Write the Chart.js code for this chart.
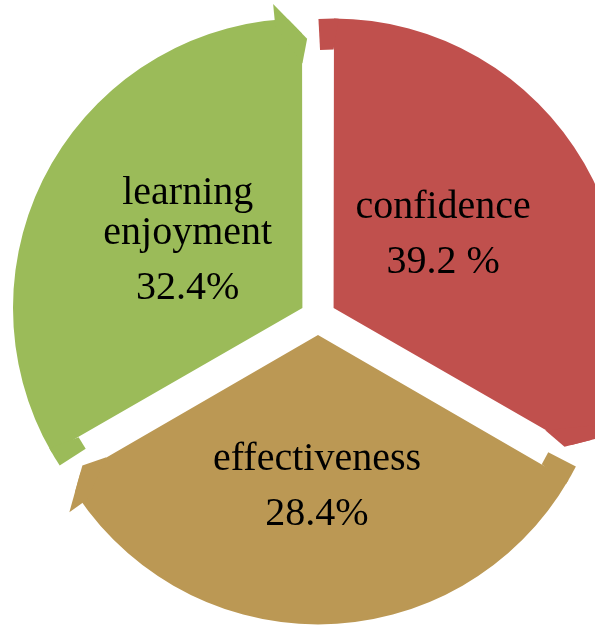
<!DOCTYPE html>
<html>
<head>
<meta charset="utf-8">
<script src="https://cdn.jsdelivr.net/npm/chart.js@4/dist/chart.umd.min.js"></script>
<style>
  html, body { margin: 0; padding: 0; background: #fff; overflow: hidden; }
  /* the circle runs past the right and bottom edges of the picture */
  #wrap { position: absolute; left: 0; top: 0; width: 636px; height: 634px; }
</style>
</head>
<body>
<div id="wrap"><canvas id="cycleChart"></canvas></div>
<script>
// Segments, clockwise from 12 o'clock
const categories = ['confidence', 'effectiveness', ['learning', 'enjoyment']];
// Shares printed on the segments
const shares = [39.2, 28.4, 32.4];
const shareText = ['39.2 %', '28.4%', '32.4%'];
// The diagram gives every segment the same sweep (degrees)
const sweep = [120, 120, 120];

const colors = ['#C0504D', '#BB9854', '#9BBB59'];
const DEG = Math.PI / 180;

function polar(cx, cy, a, r) {
    return [cx + Math.cos(a) * r, cy + Math.sin(a) * r];
}

// Centre / angles / radius of an arc as ArcElement.draw actually paints it
function arcFrame(arc) {
    const p = arc.getProps(['x', 'y', 'startAngle', 'endAngle', 'outerRadius', 'circumference'], true);
    const off = (arc.options.offset || 0) / 4;
    const mid = (p.startAngle + p.endAngle) / 2;
    const fix = 1 - Math.sin(Math.min(Math.PI, p.circumference));
    return {
        cx: p.x + Math.cos(mid) * off,
        cy: p.y + Math.sin(mid) * off,
        s: p.startAngle,
        e: p.endAngle,
        mid: mid,
        r: p.outerRadius + off * fix
    };
}

// Arrowhead at the clockwise end of each segment, notch at its start
const arrowPlugin = {
    id: 'cycleArrows',
    afterDatasetsDraw(chart, args, o) {
        const ctx = chart.ctx;
        const arcs = chart.getDatasetMeta(0).data;
        const frames = arcs.map(arcFrame);
        ctx.save();

        // cut the corner that sits outside the arrow's slanted side
        frames.forEach(f => {
            const b = polar(f.cx, f.cy, f.e - o.barbAngle * DEG, f.r + o.barbOut);
            const t = polar(f.cx, f.cy, f.e + o.tipAngle * DEG, f.r - o.tipIn);
            const to = polar(f.cx, f.cy, f.e + o.tipAngle * DEG, f.r + 45);
            const bo = polar(f.cx, f.cy, f.e - o.barbAngle * DEG, f.r + 45);
            ctx.fillStyle = '#ffffff';
            ctx.beginPath();
            ctx.moveTo(b[0], b[1]);
            ctx.lineTo(t[0], t[1]);
            ctx.lineTo(to[0], to[1]);
            ctx.lineTo(bo[0], bo[1]);
            ctx.closePath();
            ctx.fill();
        });

        frames.forEach((f, i) => {
            ctx.fillStyle = arcs[i].options.backgroundColor;

            // arrowhead
            const e0 = polar(f.cx, f.cy, f.e, f.r - 45);
            const a = polar(f.cx, f.cy, f.e - o.barbAngle * DEG, f.r - 6);
            const b = polar(f.cx, f.cy, f.e - o.barbAngle * DEG, f.r + o.barbOut);
            const t = polar(f.cx, f.cy, f.e + o.tipAngle * DEG, f.r - o.tipIn);
            ctx.beginPath();
            ctx.moveTo(e0[0], e0[1]);
            ctx.lineTo(a[0], a[1]);
            ctx.lineTo(b[0], b[1]);
            ctx.lineTo(t[0], t[1]);
            ctx.closePath();
            ctx.fill();

            // tail notch
            const s0 = polar(f.cx, f.cy, f.s, f.r - o.tailDepth);
            const s1 = polar(f.cx, f.cy, f.s - o.tailAngle * DEG, f.r - o.tailDepth);
            ctx.beginPath();
            ctx.moveTo(s0[0], s0[1]);
            ctx.lineTo(s1[0], s1[1]);
            ctx.arc(f.cx, f.cy, f.r, f.s - o.tailAngle * DEG, f.s + 1 * DEG);
            ctx.closePath();
            ctx.fill();
        });
        ctx.restore();
    }
};

// Category name and share written inside each segment
const labelPlugin = {
    id: 'segmentLabels',
    afterDatasetsDraw(chart, args, o) {
        const ctx = chart.ctx;
        const arcs = chart.getDatasetMeta(0).data;
        ctx.save();
        ctx.font = o.font;
        ctx.fillStyle = o.color;
        ctx.textAlign = 'center';
        ctx.textBaseline = 'alphabetic';
        arcs.forEach((arc, i) => {
            const f = arcFrame(arc);
            const place = o.place[i];
            const p = polar(f.cx, f.cy, f.mid + place.turn * DEG, place.dist);
            ctx.fillText(shareText[i], p[0], p[1]);
            const lines = [].concat(chart.data.labels[i]);
            let y = p[1] - o.shareGap;
            for (let k = lines.length - 1; k >= 0; k--) {
                ctx.fillText(lines[k], p[0], y);
                y -= o.lineGap;
            }
        });
        ctx.restore();
    }
};

new Chart(document.getElementById('cycleChart'), {
    type: 'pie',
    data: {
        labels: categories,
        datasets: [{
            data: sweep,
            backgroundColor: colors,
            borderWidth: 0,
            offset: 72,
            hoverOffset: 72,
            radius: 287
        }]
    },
    options: {
        responsive: true,
        maintainAspectRatio: false,
        animation: false,
        events: [],
        layout: { padding: 0 },
        plugins: {
            legend: { display: false },
            tooltip: { enabled: false },
            cycleArrows: {
                barbAngle: 5.5,
                barbOut: 16,
                tipAngle: 1,
                tipIn: 20,
                tailAngle: 3,
                tailDepth: 31
            },
            segmentLabels: {
                font: '40px "Liberation Serif", "Times New Roman", serif',
                color: '#000000',
                shareGap: 55,
                lineGap: 40,
                place: [
                    { turn: 12.3, dist: 115 },
                    { turn: 0.3, dist: 190 },
                    { turn: -25.5, dist: 115 }
                ]
            }
        }
    },
    plugins: [arrowPlugin, labelPlugin]
});
</script>
</body>
</html>
